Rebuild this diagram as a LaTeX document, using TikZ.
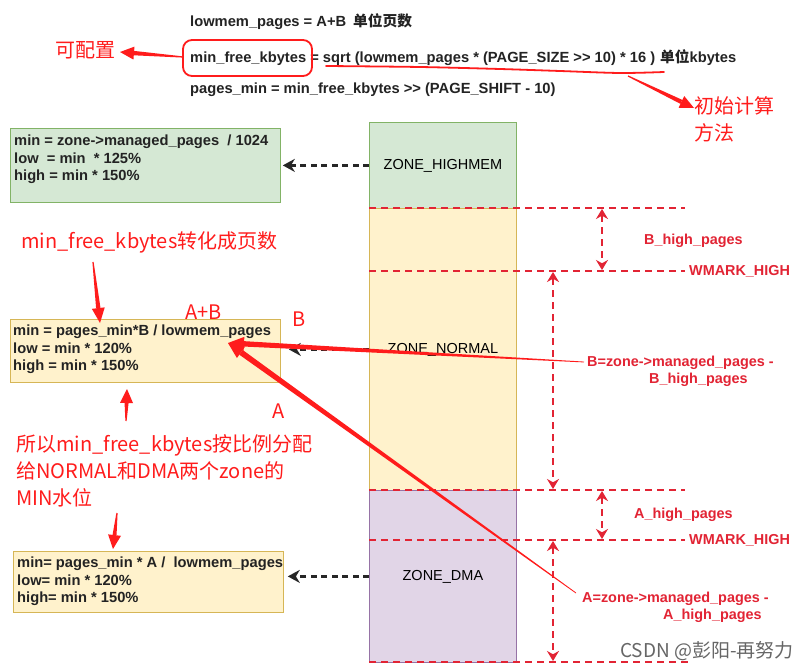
\documentclass[tikz,border=0pt]{standalone}
\usepackage{fontspec}
\setmainfont{Liberation Sans}
\newfontfamily\cjk{Noto Sans CJK SC}
\usetikzlibrary{arrows.meta,calc}
\definecolor{annred}{RGB}{255,28,28}
\definecolor{dashred}{RGB}{226,36,52}
\definecolor{txt}{RGB}{35,35,35}
\definecolor{hmfill}{RGB}{213,232,212}
\definecolor{hmdraw}{RGB}{130,179,102}
\definecolor{nmfill}{RGB}{255,242,204}
\definecolor{nmdraw}{RGB}{214,182,86}
\definecolor{dmfill}{RGB}{225,213,231}
\definecolor{dmdraw}{RGB}{150,115,166}
% start, tip, half width at start, half width at head base, head length, head half width
\newcommand\taperarrow[6]{%
  \coordinate (tpH) at ($(#2)!#5!(#1)$);
  \fill[annred] ($(#1)!#3!90:(#2)$) -- ($(tpH)!#4!-90:(#1)$) -- ($(tpH)!#4!90:(#1)$) -- ($(#1)!#3!-90:(#2)$) -- cycle;
  \fill[annred] (#2) -- ($(tpH)!#6!90:(#1)$) -- ($(tpH)!#6!-90:(#1)$) -- cycle;
}
\newcommand\gtgt{>{}>}
\tikzset{
  blk/.style={font=\fontsize{14.7}{17.3}\selectfont\bfseries, text=txt, inner sep=0pt},
  boxtxt/.style={blk, align=left, anchor=north west},
  zonebox/.style={minimum width=147pt, inner sep=0pt, anchor=north west, line width=0.8pt,
     font=\fontsize{14.5}{17}\selectfont, text=black},
  infobox/.style={minimum width=270pt, inner sep=0pt, anchor=north west, line width=0.8pt},
  anntxt/.style={font=\cjk\fontsize{20}{27}\selectfont, text=annred, inner sep=0pt},
  redlbl/.style={font=\fontsize{14.4}{17}\selectfont\bfseries, text=dashred, inner sep=0pt, anchor=west},
  reddash/.style={draw=dashred, line width=2.6pt, dash pattern=on 7pt off 5pt},
  redvarrow/.style={reddash, {Stealth[length=10pt,width=12pt]}-{Stealth[length=10pt,width=12pt]}},
  blkdash/.style={draw=black!85, line width=2.6pt, dash pattern=on 6pt off 4.5pt, -{Stealth[length=12pt,width=13pt]}},
}
\begin{document}
\begin{tikzpicture}[x=1pt,y=-1pt]
\useasboundingbox[fill=white] (0,0) rectangle (809,671);

% ---- top formulas
\node[blk, anchor=west] (f1) at (190,22) {lowmem\_pages = A+B\hspace{7pt}{\cjk 单位页数}};
\node[blk, anchor=west] (f2) at (190,58) {min\_free\_kbytes = sqrt (lowmem\_pages * (PAGE\_SIZE \gtgt\ 10) * 16 )\hspace{5pt}{\cjk 单位}kbytes};
\node[blk, anchor=west] (f3) at (190,90) {pages\_min = min\_free\_kbytes \gtgt\ (PAGE\_SHIFT - 10)};

\node[draw=annred, line width=1.8pt, rounded corners=9pt, minimum width=129pt, minimum height=36pt, inner sep=0pt] (kb) at (247.5,58) {};
\node[anntxt, anchor=west] (cfg) at (55,50) {可配置};
\coordinate (kbs) at (183,57);
\coordinate (cfgt) at (120,52);
\taperarrow{kbs}{cfgt}{0.6pt}{2.2pt}{14pt}{6.5pt}

\draw[annred, line width=1.8pt, line cap=round] plot[smooth] coordinates {(326,66) (420,67) (500,69) (560,71) (620,73) (664,72)};
\node[anntxt, align=left, anchor=north west] (init) at (694,96) {初始计算\\方法};
\coordinate (ins) at (628,76);
\coordinate (int) at (694,108);
\taperarrow{ins}{int}{0.6pt}{2.2pt}{14pt}{6.5pt}

% ---- zone column
\node[zonebox, fill=hmfill, draw=hmdraw, minimum height=86pt] (hm) at (369,122) {ZONE\_HIGHMEM};
\node[zonebox, fill=nmfill, draw=nmdraw, minimum height=282pt] (nm) at (369,208) {ZONE\_NORMAL};
\node[zonebox, fill=dmfill, draw=dmdraw, minimum height=172pt] (dm) at (369,490) {ZONE\_DMA};

% ---- left info boxes
\node[infobox, fill=hmfill, draw=hmdraw, minimum height=74pt] (gb) at (10,128) {};
\node[boxtxt] (gbt) at (14,135) {min = zone->managed\_pages\ \ / 1024\\low\ \ = min\ \ * 125\%\\high = min * 150\%};
\node[infobox, fill=nmfill, draw=nmdraw, minimum height=63pt] (yb1) at (10,319) {};
\node[boxtxt] (yb1t) at (13,325) {min = pages\_min*B / lowmem\_pages\\low = min * 120\%\\high = min * 150\%};
\node[infobox, fill=nmfill, draw=nmdraw, minimum height=61pt] (yb2) at (13,551) {};
\node[boxtxt] (yb2t) at (17,557) {min= pages\_min * A /\ \ lowmem\_pages\\low= min * 120\%\\high= min * 150\%};

% ---- black dashed arrows
\draw[blkdash] (hm.west) -- ([xshift=2pt]gb.east |- hm.west);
\draw[blkdash] (nm.west) -- ([xshift=8pt]yb1.east |- nm.west);
\draw[blkdash] (dm.west) -- ([xshift=4pt]yb2.east |- dm.west);

% ---- red dashed levels
\draw[reddash] (369,208) -- (685,208);
\draw[reddash] (369,271) -- (685,271);
\draw[reddash] (369,490) -- (685,490);
\draw[reddash] (369,540) -- (685,540);
\draw[reddash] (369,662) -- (690,662);
\draw[redvarrow] (602,209) -- (602,270);
\draw[redvarrow] (553,272) -- (553,489);
\draw[redvarrow] (602,491) -- (602,539);
\draw[redvarrow] (553,541) -- (553,661);

\node[redlbl] (bhp) at (644,241) {B\_high\_pages};
\node[redlbl] (wm1) at (689,271) {WMARK\_HIGH};
\node[redlbl] (bdef) at (587,363) {B=zone->managed\_pages -};
\node[redlbl] (bdef2) at (649,380) {B\_high\_pages};
\node[redlbl] (ahp) at (634,515) {A\_high\_pages};
\node[redlbl] (wm2) at (689,540) {WMARK\_HIGH};
\node[redlbl] (adef) at (582,599) {A=zone->managed\_pages -};
\node[redlbl] (adef2) at (663,616) {A\_high\_pages};

% ---- red annotations on the left
\node[anntxt, anchor=west] (conv) at (21,242) {min\_free\_kbytes转化成页数};
\coordinate (cvs) at (93,262);
\coordinate (cvt) at (100,323);
\taperarrow{cvs}{cvt}{0.6pt}{2.2pt}{15pt}{6.5pt}

\node[anntxt, anchor=west] (apb) at (185,312) {A+B};
\node[anntxt, anchor=west] (lb) at (292,319) {B};
\node[anntxt, anchor=west] (la) at (272,411) {A};

\coordinate (bs) at (584,362);
\coordinate (as) at (576,593);
\coordinate (abt) at (228,343);
\taperarrow{bs}{abt}{0.4pt}{2.7pt}{16pt}{7pt}
\taperarrow{as}{abt}{0.4pt}{2.9pt}{16pt}{7pt}

\node[anntxt, align=left, anchor=north west] (prop) at (16,434) {所以min\_free\_kbytes按比例分配\\给NORMAL和DMA两个zone的\\MIN水位};
\coordinate (ups) at (126,421);
\coordinate (upt) at (127,389);
\taperarrow{ups}{upt}{0.6pt}{2pt}{14pt}{6.5pt}
\coordinate (dns) at (117,513);
\coordinate (dnt) at (113,549);
\taperarrow{dns}{dnt}{0.6pt}{2pt}{14pt}{6.5pt}

% ---- watermark
\node[font=\cjk\fontsize{19}{22}\selectfont, text=black!60, anchor=west, inner sep=0pt] (wmk) at (620,651) {CSDN @彭阳-再努力};
\end{tikzpicture}
\end{document}
